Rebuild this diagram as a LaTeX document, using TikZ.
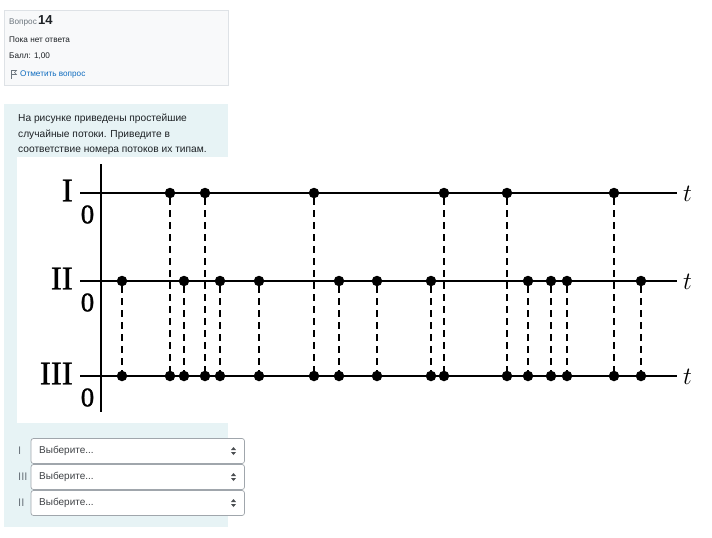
\documentclass[tikz,border=0pt]{standalone}
\usepackage{fontspec}
\setmainfont{Liberation Sans}
\newfontfamily\plotfont[FakeBold=1]{Liberation Serif}
\usetikzlibrary{calc,positioning}
\definecolor{qinfoFill}{RGB}{248,249,250}
\definecolor{qinfoLine}{RGB}{222,226,230}
\definecolor{qtextFill}{RGB}{231,243,245}
\definecolor{qgray}{RGB}{108,117,125}
\definecolor{qdark}{RGB}{29,33,37}
\definecolor{qlink}{RGB}{15,108,191}
\definecolor{qselLine}{RGB}{160,166,172}

\tikzset{
  flowline/.style={line width=2.2pt},
  flowdot/.style={circle,fill=black,inner sep=0pt,minimum size=10.5pt},
  flowdash/.style={line width=2.5pt,dash pattern=on 7pt off 5pt},
  rowlabel/.style={font=\plotfont\fontsize{33}{33}\selectfont,anchor=east,inner sep=0pt},
  zerolabel/.style={font=\plotfont\fontsize{27}{27}\selectfont,inner sep=0pt},
  tlabel/.style={font=\plotfont\itshape\fontsize{28}{28}\selectfont,anchor=west,inner sep=0pt},
  infotext/.style={anchor=west,inner sep=0pt,text=qdark,font=\fontsize{8.2}{10}\selectfont},
  qtext/.style={anchor=west,inner sep=0pt,text=qdark,font=\fontsize{10.2}{13}\selectfont},
  selectbox/.style={draw=qselLine,fill=white,rounded corners=2.5pt,line width=0.7pt},
  seltext/.style={anchor=west,inner sep=0pt,text=qdark!85,font=\fontsize{10}{12}\selectfont},
  sellabel/.style={anchor=west,inner sep=0pt,text=qgray,font=\fontsize{11}{12}\selectfont}
}

\begin{document}
\begin{tikzpicture}[x=1pt,y=-1pt]
    \useasboundingbox (0,0) rectangle (712,538);
    \fill[white] (0,0) rectangle (712,538);

    % question info box
    \filldraw[fill=qinfoFill, draw=qinfoLine, line width=0.7pt] (4.5,10) rectangle (228.5,85);
    \node[infotext, text=qgray] (qword) at (9,22.5) {Вопрос};
    \node[anchor=west, inner sep=0pt, font=\bfseries\fontsize{13}{14}\selectfont, text=qdark] (qnum) at (38,20.5) {14};
    \node[infotext] (qstate) at (9,39.5) {Пока нет ответа};
    \node[infotext] (qgrade) at (9,56.5) {Балл: 1,00};
    \draw[qgray, line width=0.6pt] (11,70.5) -- (11,79);
    \draw[qgray, line width=0.6pt] (11,70.5) -- (16.5,70.5) -- (14.5,72.5) -- (16.5,74.5) -- (11,74.5);
    \node[infotext, text=qlink] (qflag) at (20,74.5) {Отметить вопрос};

    % question text box
    \fill[qtextFill] (4,104) rectangle (228,527);
    \node[qtext] (qline1) at (18,119) {На рисунке приведены простейшие};
    \node[qtext] (qline2) at (18,134.5) {случайные потоки. Приведите в};
    \node[qtext] (qline3) at (18,150.5) {соответствие номера потоков их типам.};
    \fill[white] (17,157) rectangle (700,423);

    % axes
    \coordinate (top0) at (101,164);
    \coordinate (bot0) at (101,412);
    \draw[flowline] (top0) -- (bot0);
    \foreach \row/\y in {I/193,II/281,III/376}{
        \coordinate (\row-start) at (80,\y);
        \coordinate (\row-end) at (677,\y);
        \draw[flowline] (\row-start) -- (\row-end);
        \node[rowlabel] (\row-name) at (73,\y-2.5) {\row};
        \node[zerolabel] (\row-zero) at (87.5,\y+21.5) {0};
        \node[tlabel] (\row-t) at (683,\y+1) {$t$};
    }

    % events of flow I, projected onto III
    \foreach \x in {170,205,314,444,507,614}{
        \node[flowdot] (I-\x) at (\x,193) {};
        \node[flowdot] (III-\x) at (\x,376) {};
        \draw[flowdash] (I-\x) -- (III-\x);
    }

    % events of flow II, projected onto III
    \foreach \x in {122,184,220,259,339,377,431,528,551,567,641}{
        \node[flowdot] (II-\x) at (\x,281) {};
        \node[flowdot] (III-\x) at (\x,376) {};
        \draw[flowdash] (II-\x) -- (III-\x);
    }

    % answer selects
    \foreach \lab/\y in {I/451,III/477,II/503}{
        \node[sellabel] (lab-\lab) at (18,\y) {\lab};
        \draw[selectbox] (31,\y-12.5) rectangle (244.5,\y+12.5);
        \node[seltext] (sel-\lab) at (39,\y) {Выберите...};
        \fill[qdark!80] (231,\y-1) -- (236,\y-1) -- (233.5,\y-4) -- cycle;
        \fill[qdark!80] (231,\y+1) -- (236,\y+1) -- (233.5,\y+4) -- cycle;
    }
\end{tikzpicture}
\end{document}
